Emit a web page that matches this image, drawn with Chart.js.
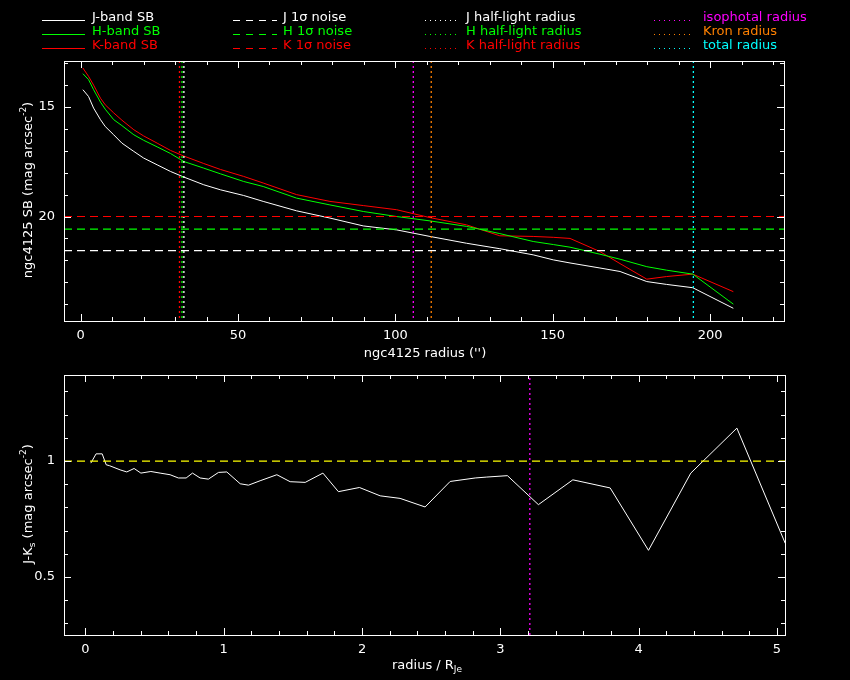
<!DOCTYPE html>
<html>
<head>
<meta charset="utf-8">
<script src="https://cdn.jsdelivr.net/npm/chart.js@4"></script>
<style>
  html, body { margin: 0; padding: 0; background: #000; }
  body { width: 850px; height: 680px; position: relative; overflow: hidden;
         font-family: "DejaVu Sans", sans-serif; font-size: 13px; color: #fff; }
  canvas { position: absolute; left: 0; }
  .txt { position: absolute; white-space: nowrap; line-height: 14px; }
  .smp { position: absolute; height: 1px; }
  .title { position: absolute; white-space: nowrap; transform: translate(-50%, -50%); }
  .rot { transform: translate(-50%, -50%) rotate(-90deg); }
  sup, sub { font-size: 9px; line-height: 0; }
</style>
</head>
<body>
<canvas id="sbChart" width="850" height="365" style="top:0"></canvas>
<canvas id="colorChart" width="850" height="315" style="top:365px"></canvas>

<div class="title rot" style="left:27px; top:190px">ngc4125 SB (mag arcsec<sup>-2</sup>)</div>
<div class="title" style="left:425px; top:352px">ngc4125 radius ('')</div>
<div class="title rot" style="left:27px; top:504px">J-K<sub>s</sub> (mag arcsec<sup>-2</sup>)</div>
<div class="title" style="left:427px; top:664px">radius / R<sub>Je</sub></div>
<div id="legend"></div>

<script>
// ================= DATA =================
const radius = [0.7, 2.5, 4.1, 6.3, 7.8, 10.5, 13.1, 16.9, 20, 24.3, 28.5, 32.8, 39.1, 44.4, 51.8, 58,
    68.6, 79.2, 89.8, 100.4, 111, 122.6, 133.2, 143.8, 150.2, 155.5, 165, 171.4, 179.9, 186.2, 194.5, 207.4];
const jSB = [14.21, 14.52, 15.05, 15.58, 15.89, 16.27, 16.65, 17.03, 17.33, 17.64, 17.94, 18.2, 18.55, 18.78, 19.04, 19.31,
    19.74, 20.07, 20.43, 20.61, 20.91, 21.22, 21.47, 21.75, 21.98, 22.12, 22.35, 22.51, 22.97, 23.1, 23.25, 24.19];
const hSB = [13.48, 13.75, 14.21, 14.78, 15.1, 15.58, 15.85, 16.27, 16.52, 16.82, 17.12, 17.49, 17.79, 18.05, 18.4, 18.63,
    19.16, 19.47, 19.77, 20.0, 20.2, 20.45, 20.78, 21.14, 21.28, 21.4, 21.72, 21.95, 22.29, 22.45, 22.63, 24.0];
const kSB = [13.22, 13.6, 14.0, 14.6, 14.9, 15.27, 15.6, 16.04, 16.32, 16.65, 16.98, 17.24, 17.58, 17.85, 18.17, 18.47,
    19.0, 19.31, 19.5, 19.69, 20.05, 20.38, 20.88, 20.91, 20.95, 21.0, 21.6, 22.15, 22.86, 22.74, 22.63, 23.43];

// J, H, K
const noiseLevels = [21.56, 20.58, 20.0];
const halfLightRadii = [32.8, 32.2, 31.4];
const isophotalRadius = 105.7;
const kronRadius = 111.4;
const totalRadius = 194.7;

const radiusNorm = [0.039, 0.077, 0.121, 0.150, 0.174, 0.251, 0.299, 0.352, 0.401, 0.473, 0.540, 0.612, 0.672, 0.728,
    0.774, 0.829, 0.889, 0.962, 1.022, 1.119, 1.179, 1.263, 1.384, 1.480, 1.589, 1.717, 1.829, 1.981, 2.131, 2.275,
    2.456, 2.637, 2.818, 2.902, 3.051, 3.275, 3.524, 3.794, 4.071, 4.377, 4.710, 5.06];
const jkColor = [0.991, 1.031, 1.031, 0.984, 0.98, 0.962, 0.953, 0.968, 0.948, 0.955, 0.948, 0.941, 0.927, 0.927,
    0.948, 0.927, 0.922, 0.951, 0.953, 0.902, 0.896, 0.915, 0.941, 0.911, 0.908, 0.948, 0.868, 0.886, 0.85, 0.839,
    0.802, 0.912, 0.927, 0.931, 0.937, 0.812, 0.919, 0.884, 0.615, 0.948, 1.142, 0.645];
const jkReference = 1.0;
const isophotalRadiusNorm = 3.213;

// axis ranges
const sbXRange = [-5.3, 223.5];
const sbYRange = [12.9, 24.77];
const jkXRange = [-0.155, 5.058];
const jkYRange = [0.25, 1.371];

const WHITE = "#ffffff", GREEN = "#00ff00", RED = "#ff0000";
const MAGENTA = "#ff00ff", ORANGE = "#ff8000", CYAN = "#00ffff", YELLOW = "#ffff00";
const DASH = [8, 5];
const DOT = [2, 3];

// ================= HELPERS =================
function curve(xs, ys, color) {
    return {
        data: xs.map((x, i) => ({ x: x, y: ys[i] })),
        borderColor: color, borderWidth: 1, pointRadius: 0, showLine: true, tension: 0
    };
}

function hLine(y, range, color, dash) {
    return {
        data: [{ x: range[0], y: y }, { x: range[1], y: y }],
        borderColor: color, borderWidth: 1.2, borderDash: dash, pointRadius: 0, showLine: true
    };
}

function vLine(x, range, color) {
    return {
        data: [{ x: x, y: range[0] }, { x: x, y: range[1] }],
        borderColor: color, borderWidth: 1.3, borderDash: DOT, pointRadius: 0, showLine: true
    };
}

// box frame + inward ticks on all four sides
const framePlugin = {
    id: "frame",
    afterDraw(chart) {
        const ctx = chart.ctx;
        const a = chart.chartArea;
        ctx.save();
        ctx.strokeStyle = WHITE;
        ctx.lineWidth = 1;
        ctx.strokeRect(Math.round(a.left) + 0.5, Math.round(a.top) + 0.5,
            Math.round(a.right - a.left), Math.round(a.bottom - a.top));
        ctx.beginPath();
        chart.scales.x.ticks.forEach(t => {
            const px = Math.round(chart.scales.x.getPixelForValue(t.value)) + 0.5;
            const len = t.label !== "" ? 7 : 4;
            ctx.moveTo(px, a.bottom); ctx.lineTo(px, a.bottom - len);
            ctx.moveTo(px, a.top); ctx.lineTo(px, a.top + len);
        });
        chart.scales.y.ticks.forEach(t => {
            const py = Math.round(chart.scales.y.getPixelForValue(t.value)) + 0.5;
            const len = t.label !== "" ? 7 : 4;
            ctx.moveTo(a.left, py); ctx.lineTo(a.left + len, py);
            ctx.moveTo(a.right, py); ctx.lineTo(a.right - len, py);
        });
        ctx.stroke();
        ctx.restore();
    }
};

function axis(range, step, major, isX, size, reverse) {
    return {
        type: "linear",
        min: range[0], max: range[1], reverse: !!reverse,
        grid: { display: false, drawTicks: false },
        border: { display: false },
        afterFit(scale) {
            if (isX) scale.height = size; else scale.width = size;
            // keep the plot box exactly where the layout padding puts it
            scale.paddingTop = 0; scale.paddingBottom = 0;
            scale.paddingLeft = 0; scale.paddingRight = 0;
        },
        ticks: {
            stepSize: step, autoSkip: false, includeBounds: false, maxRotation: 0,
            color: WHITE, padding: isX ? 7 : 9,
            font: { family: "DejaVu Sans", size: 13 },
            callback(v) {
                const q = v / major;
                return Math.abs(q - Math.round(q)) < 1e-6 ? String(Math.round(v * 100) / 100) : "";
            }
        }
    };
}

function baseOptions(xAxis, yAxis, pad) {
    return {
        responsive: false, animation: false, devicePixelRatio: 1,
        layout: { padding: pad },
        plugins: { legend: { display: false }, tooltip: { enabled: false } },
        scales: { x: xAxis, y: yAxis }
    };
}

// ================= SB CHART =================
function loadSBChart() {
    const datasets = [
        hLine(noiseLevels[0], sbXRange, WHITE, DASH),
        hLine(noiseLevels[1], sbXRange, GREEN, DASH),
        hLine(noiseLevels[2], sbXRange, RED, DASH),
        vLine(halfLightRadii[0], sbYRange, WHITE),
        vLine(halfLightRadii[1], sbYRange, GREEN),
        vLine(halfLightRadii[2], sbYRange, RED),
        vLine(isophotalRadius, sbYRange, MAGENTA),
        vLine(kronRadius, sbYRange, ORANGE),
        vLine(totalRadius, sbYRange, CYAN),
        curve(radius, jSB, WHITE),
        curve(radius, hSB, GREEN),
        curve(radius, kSB, RED)
    ];
    new Chart(document.getElementById("sbChart"), {
        type: "scatter",
        data: { datasets: datasets },
        options: baseOptions(
            axis(sbXRange, 10, 50, true, 40),
            axis(sbYRange, 1, 5, false, 64, true),
            { top: 61, left: 0, right: 66, bottom: 4 }
        ),
        plugins: [framePlugin]
    });
}

// ================= COLOUR CHART =================
function loadColorChart() {
    const datasets = [
        hLine(jkReference, jkXRange, YELLOW, DASH),
        vLine(isophotalRadiusNorm, jkYRange, MAGENTA),
        curve(radiusNorm, jkColor, WHITE)
    ];
    new Chart(document.getElementById("colorChart"), {
        type: "scatter",
        data: { datasets: datasets },
        options: baseOptions(
            axis(jkXRange, 0.2, 1, true, 40),
            axis(jkYRange, 0.1, 0.5, false, 64),
            { top: 10, left: 0, right: 65, bottom: 5 }
        ),
        plugins: [framePlugin]
    });
}

// ================= LEGEND =================
function buildLegend() {
    const rows = [17, 31, 44.5];
    const cols = [
        { x0: 42, x1: 85, tx: 92, style: "solid", items: [["J-band SB", WHITE], ["H-band SB", GREEN], ["K-band SB", RED]] },
        { x0: 233, x1: 277, tx: 283, style: "dash", items: [["J 1σ noise", WHITE], ["H 1σ noise", GREEN], ["K 1σ noise", RED]] },
        { x0: 425, x1: 457, tx: 466, style: "dot", items: [["J half-light radius", WHITE], ["H half-light radius", GREEN], ["K half-light radius", RED]] },
        { x0: 654, x1: 693, tx: 703, style: "dot", items: [["isophotal radius", MAGENTA], ["Kron radius", ORANGE], ["total radius", CYAN]] }
    ];
    const box = document.getElementById("legend");
    cols.forEach(col => {
        col.items.forEach((it, i) => {
            const c = it[1];
            const s = document.createElement("div");
            s.className = "smp";
            s.style.left = col.x0 + "px";
            s.style.width = (col.x1 - col.x0) + "px";
            s.style.top = Math.round(rows[i] + 3) + "px";
            if (col.style === "solid") s.style.background = c;
            else if (col.style === "dash") s.style.background = `repeating-linear-gradient(to right, ${c} 0 7px, transparent 7px 13px)`;
            else s.style.background = `repeating-linear-gradient(to right, ${c} 0 1px, transparent 1px 5px)`;
            box.appendChild(s);

            const t = document.createElement("div");
            t.className = "txt";
            t.style.left = col.tx + "px";
            t.style.top = (rows[i] - 7) + "px";
            t.style.color = c;
            t.textContent = it[0];
            box.appendChild(t);
        });
    });
}

buildLegend();
loadSBChart();
loadColorChart();
</script>
</body>
</html>
